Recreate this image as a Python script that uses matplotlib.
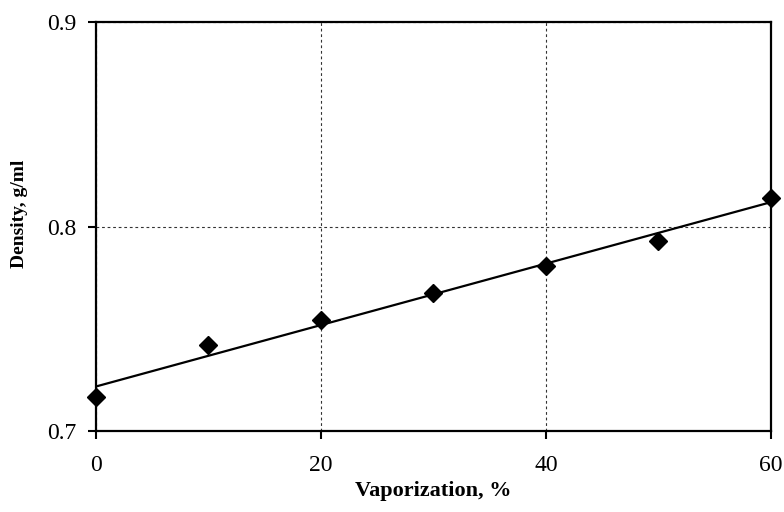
import numpy as np
import matplotlib.pyplot as plt

# ---------------------------------------------
#   DATA: density of residue vs vaporization
# ---------------------------------------------

vaporization = [0, 10, 20, 30, 40, 50, 60]                          # %
density = [0.7166, 0.742, 0.7543, 0.7675, 0.7807, 0.793, 0.814]     # g/ml

x_ticks = [0, 20, 40, 60]
y_ticks = [0.7, 0.8, 0.9]

# linear trend line through the measurements
slope, intercept = np.polyfit(vaporization, density, 1)
x_fit = np.array([0, 60])
y_fit = slope * x_fit + intercept

# ---------------------------------------------
#   GRAPH
# ---------------------------------------------

plt.rcParams['font.family'] = 'Liberation Serif'

fig = plt.figure(figsize=(7.84, 5.12), dpi=100)
ax = fig.add_axes([0.1224, 0.158, 0.861, 0.799])

ax.plot(x_fit, y_fit, color='black', linewidth=1.6, zorder=3)
ax.plot(vaporization, density, linestyle='none', marker='D', markersize=9,
        color='black', clip_on=False, zorder=4)

ax.set_xlim(0, 60)
ax.set_ylim(0.7, 0.9)
ax.set_xticks(x_ticks)
ax.set_yticks(y_ticks)
ax.set_xticklabels([str(v) for v in x_ticks])
ax.set_yticklabels(['%.1f' % v for v in y_ticks])

ax.grid(True, color='#333333', linestyle=(0, (2.5, 2.5)), linewidth=0.8)

for s in ax.spines.values():
    s.set_linewidth(1.6)

ax.tick_params(direction='out', length=6, width=1.5, labelsize=17)
ax.tick_params(axis='x', pad=11)
ax.tick_params(axis='y', pad=8)

ax.set_xlabel('Vaporization, %', fontsize=16, fontweight='bold', labelpad=4)
ax.set_ylabel('Density, g/ml', fontsize=14, fontweight='bold')
ax.yaxis.set_label_coords(-0.1, 0.53)

plt.savefig('out.png', dpi=100)
